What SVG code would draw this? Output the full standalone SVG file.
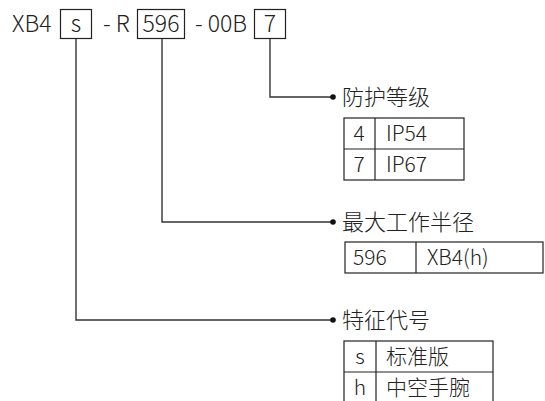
<svg xmlns="http://www.w3.org/2000/svg" width="545" height="401" viewBox="0 0 545 401">
<style>
text{font-family:"Noto Sans CJK SC","Noto Sans",sans-serif;font-weight:300;fill:#222;}
.h{font-size:23px;}
.t{font-size:22px;}
.c{font-size:21px;}
.box{fill:#fff;stroke:#222;stroke-width:1.2;}
.ln{fill:none;stroke:#333;stroke-width:1.4;}
.tb{fill:none;stroke:#222;stroke-width:1.2;}
</style>
<rect width="545" height="401" fill="#fff"/>
<g id="code">
<text class="h" x="12" y="32">XB4</text>
<rect class="box" x="60.5" y="9.5" width="31" height="29"/>
<text class="h" x="76" y="32" text-anchor="middle">s</text>
<text class="h" x="103" y="32">- R</text>
<rect class="box" x="137.5" y="9.5" width="47" height="29"/>
<text class="h" x="161" y="32" text-anchor="middle">596</text>
<text class="h" x="195" y="32">- 00B</text>
<rect class="box" x="254.5" y="9.5" width="31" height="29"/>
<text class="h" x="270" y="32" text-anchor="middle">7</text>
</g>
<g id="connectors">
<path class="ln" d="M270,39 V97 H333"/>
<circle cx="333" cy="97" r="2.8" fill="#111"/>
<path class="ln" d="M162,39 V222 H333"/>
<circle cx="333" cy="222" r="2.8" fill="#111"/>
<path class="ln" d="M76,39 V320 H333"/>
<circle cx="333" cy="320" r="2.8" fill="#111"/>
</g>
<g id="protection">
<text class="t" x="342" y="105">防护等级</text>
<rect class="tb" x="344" y="118" width="120" height="62"/>
<line class="tb" x1="344" y1="149" x2="464" y2="149"/>
<line class="tb" x1="375" y1="118" x2="375" y2="180"/>
<text class="c" x="359" y="141" text-anchor="middle">4</text>
<text class="c" x="386" y="141">IP54</text>
<text class="c" x="359" y="172" text-anchor="middle">7</text>
<text class="c" x="386" y="172">IP67</text>
</g>
<g id="radius">
<text class="t" x="342" y="230">最大工作半径</text>
<rect class="tb" x="345" y="242" width="198" height="31"/>
<line class="tb" x1="416" y1="242" x2="416" y2="273"/>
<text class="c" x="353" y="265">596</text>
<text class="c" x="427" y="265">XB4(h)</text>
</g>
<g id="feature">
<text class="t" x="342" y="328">特征代号</text>
<rect class="tb" x="344" y="341" width="149" height="62"/>
<line class="tb" x1="344" y1="372" x2="493" y2="372"/>
<line class="tb" x1="376" y1="341" x2="376" y2="403"/>
<text class="c" x="360" y="364" text-anchor="middle">s</text>
<text class="c" x="386" y="364">标准版</text>
<text class="c" x="360" y="395" text-anchor="middle">h</text>
<text class="c" x="386" y="395">中空手腕</text>
</g>
</svg>
